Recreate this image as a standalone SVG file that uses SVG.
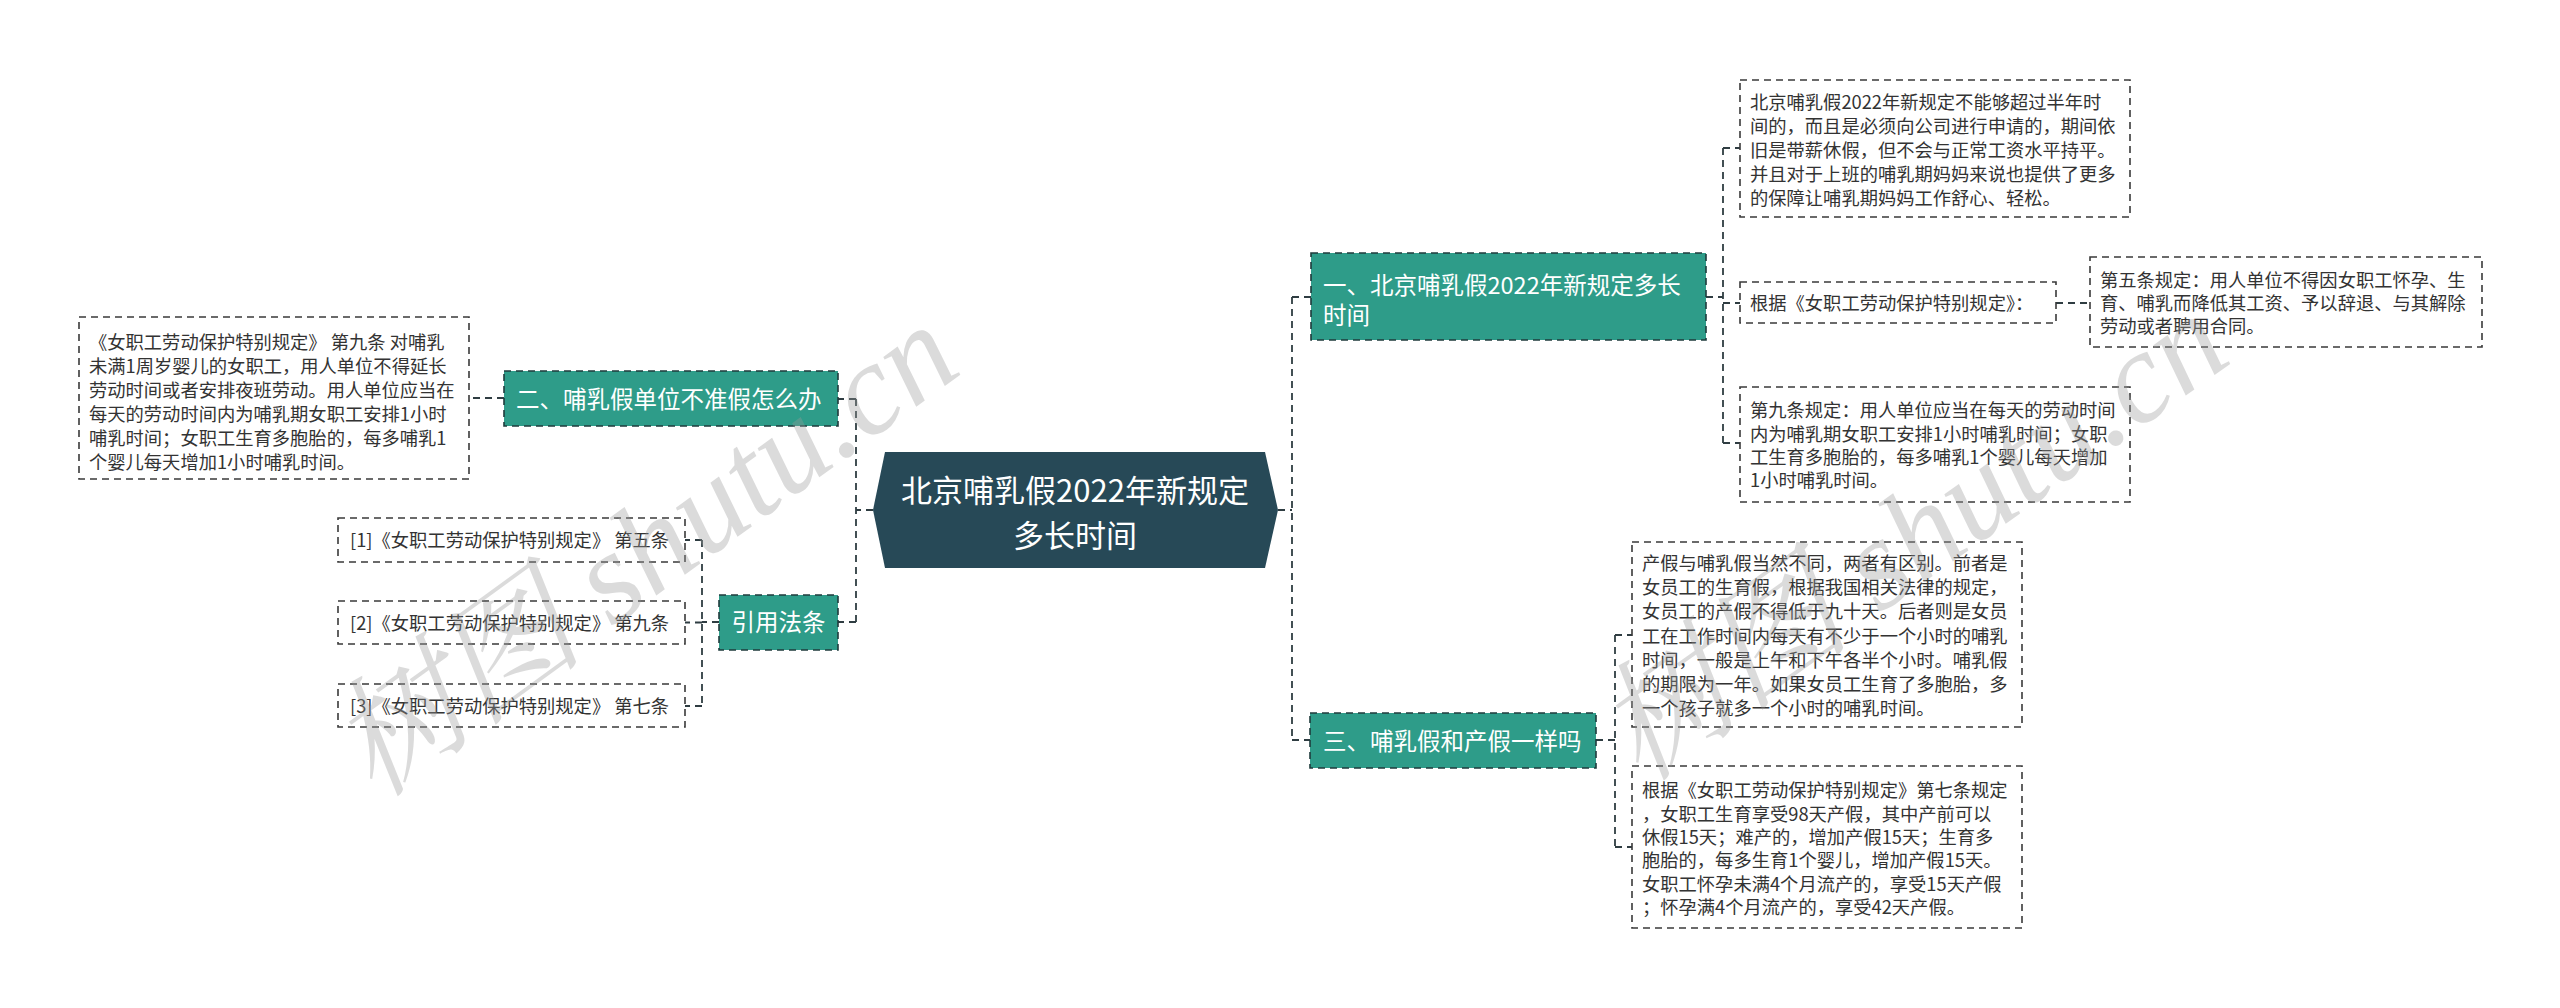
<svg xmlns="http://www.w3.org/2000/svg" width="2560" height="1008" viewBox="0 0 2560 1008">
<style>
.conn{fill:none;stroke:#2f3d42;stroke-width:1.8;stroke-dasharray:7 5}
.leaf{fill:#ffffff;stroke:#3a3a3a;stroke-width:1.6;stroke-dasharray:7 5}
.branch{fill:#2e9c89;stroke:#1f3b3c;stroke-width:1.6;stroke-dasharray:7 5}
.lt{font-family:"Noto Sans CJK SC","Noto Sans",sans-serif;font-size:18.3px;fill:#333333}
.bt{font-family:"Noto Sans CJK SC","Noto Sans",sans-serif;font-size:23.5px;fill:#ffffff}
.ct{font-family:"Noto Sans CJK SC","Noto Sans",sans-serif;font-size:31px;fill:#ffffff;text-anchor:middle}
.wm{font-family:"Liberation Serif","Noto Serif CJK SC","Noto Sans CJK SC",serif;font-style:italic;font-size:130px;fill:#9a9a9a;opacity:0.35}
</style>
<rect width="2560" height="1008" fill="#ffffff"/>
<g id="connectors">
<path class="conn" d="M873 510 H856 M856 399 V622 M856 399 H838 M856 622 H838"/>
<path class="conn" d="M504 398 H469"/>
<path class="conn" d="M719 622 H702 M702 540 V706 M702 540 H685 M702 622.5 H685 M702 706 H685"/>
<path class="conn" d="M1278 510 H1292 M1292 297 V740 M1292 297 H1311 M1292 740 H1310"/>
<path class="conn" d="M1706 297 H1723 M1723 148 V443 M1723 148 H1740 M1723 303 H1740 M1723 443 H1740"/>
<path class="conn" d="M2056 303 H2090"/>
<path class="conn" d="M1596 740 H1615 M1615 635 V847 M1615 635 H1632 M1615 847 H1632"/>
</g>
<g id="center">
<polygon points="873,510 885,452 1265,452 1278,510 1265,568 885,568" fill="#274957"/>
<text class="ct" x="1075" y="502">北京哺乳假2022年新规定</text>
<text class="ct" x="1075" y="547">多长时间</text>
</g>
<g id="n2">
<rect class="branch" x="504" y="371" width="334" height="55"/>
<text class="bt" x="516" y="408">二、哺乳假单位不准假怎么办</text>
</g>
<g id="n2a">
<rect class="leaf" x="79" y="317" width="390" height="162"/>
<text class="lt" x="89" y="349">《女职工劳动保护特别规定》 第九条 对哺乳</text>
<text class="lt" x="89" y="373">未满1周岁婴儿的女职工，用人单位不得延长</text>
<text class="lt" x="89" y="397">劳动时间或者安排夜班劳动。用人单位应当在</text>
<text class="lt" x="89" y="421">每天的劳动时间内为哺乳期女职工安排1小时</text>
<text class="lt" x="89" y="445">哺乳时间；女职工生育多胞胎的，每多哺乳1</text>
<text class="lt" x="89" y="469">个婴儿每天增加1小时哺乳时间。</text>
</g>
<g id="refs">
<rect class="branch" x="719" y="595" width="119" height="55"/>
<text class="bt" x="778.5" y="631" text-anchor="middle">引用法条</text>
</g>
<g id="ref1">
<rect class="leaf" x="338" y="518" width="347" height="44"/>
<text class="lt" x="350" y="547">[1]《女职工劳动保护特别规定》 第五条</text>
</g>
<g id="ref2">
<rect class="leaf" x="338" y="601" width="347" height="43"/>
<text class="lt" x="350" y="630">[2]《女职工劳动保护特别规定》 第九条</text>
</g>
<g id="ref3">
<rect class="leaf" x="338" y="684" width="347" height="43"/>
<text class="lt" x="350" y="713">[3]《女职工劳动保护特别规定》 第七条</text>
</g>
<g id="n1">
<rect class="branch" x="1311" y="253" width="395" height="87"/>
<text class="bt" x="1323" y="294">一、北京哺乳假2022年新规定多长</text>
<text class="bt" x="1323" y="324">时间</text>
</g>
<g id="n1a">
<rect class="leaf" x="1740" y="80" width="390" height="137"/>
<text class="lt" x="1750" y="109">北京哺乳假2022年新规定不能够超过半年时</text>
<text class="lt" x="1750" y="133">间的，而且是必须向公司进行申请的，期间依</text>
<text class="lt" x="1750" y="157">旧是带薪休假，但不会与正常工资水平持平。</text>
<text class="lt" x="1750" y="181">并且对于上班的哺乳期妈妈来说也提供了更多</text>
<text class="lt" x="1750" y="205">的保障让哺乳期妈妈工作舒心、轻松。</text>
</g>
<g id="n1b">
<rect class="leaf" x="1740" y="282" width="316" height="41"/>
<text class="lt" x="1750" y="310">根据《女职工劳动保护特别规定》：</text>
</g>
<g id="n1b1">
<rect class="leaf" x="2090" y="257" width="392" height="90"/>
<text class="lt" x="2100" y="287">第五条规定：用人单位不得因女职工怀孕、生</text>
<text class="lt" x="2100" y="310">育、哺乳而降低其工资、予以辞退、与其解除</text>
<text class="lt" x="2100" y="333">劳动或者聘用合同。</text>
</g>
<g id="n1c">
<rect class="leaf" x="1740" y="387" width="390" height="115"/>
<text class="lt" x="1750" y="417">第九条规定：用人单位应当在每天的劳动时间</text>
<text class="lt" x="1750" y="441">内为哺乳期女职工安排1小时哺乳时间；女职</text>
<text class="lt" x="1750" y="464">工生育多胞胎的，每多哺乳1个婴儿每天增加</text>
<text class="lt" x="1750" y="487">1小时哺乳时间。</text>
</g>
<g id="n3">
<rect class="branch" x="1310" y="713" width="286" height="55"/>
<text class="bt" x="1323" y="750">三、哺乳假和产假一样吗</text>
</g>
<g id="n3a">
<rect class="leaf" x="1632" y="542" width="390" height="185"/>
<text class="lt" x="1642" y="570">产假与哺乳假当然不同，两者有区别。前者是</text>
<text class="lt" x="1642" y="594">女员工的生育假，根据我国相关法律的规定，</text>
<text class="lt" x="1642" y="618">女员工的产假不得低于九十天。后者则是女员</text>
<text class="lt" x="1642" y="643">工在工作时间内每天有不少于一个小时的哺乳</text>
<text class="lt" x="1642" y="667">时间，一般是上午和下午各半个小时。哺乳假</text>
<text class="lt" x="1642" y="691">的期限为一年。如果女员工生育了多胞胎，多</text>
<text class="lt" x="1642" y="715">一个孩子就多一个小时的哺乳时间。</text>
</g>
<g id="n3b">
<rect class="leaf" x="1632" y="766" width="390" height="162"/>
<text class="lt" x="1642" y="797">根据《女职工劳动保护特别规定》第七条规定</text>
<text class="lt" x="1642" y="821">，女职工生育享受98天产假，其中产前可以</text>
<text class="lt" x="1642" y="844">休假15天；难产的，增加产假15天；生育多</text>
<text class="lt" x="1642" y="867">胞胎的，每多生育1个婴儿，增加产假15天。</text>
<text class="lt" x="1642" y="891">女职工怀孕未满4个月流产的，享受15天产假</text>
<text class="lt" x="1642" y="914">；怀孕满4个月流产的，享受42天产假。</text>
</g>
<g id="watermark">
<text class="wm" transform="translate(375,800) rotate(-36)">树图 shutu.cn</text>
<text class="wm" transform="translate(1641,784) rotate(-35.5)">树图 shutu.cn</text>
</g>
</svg>
